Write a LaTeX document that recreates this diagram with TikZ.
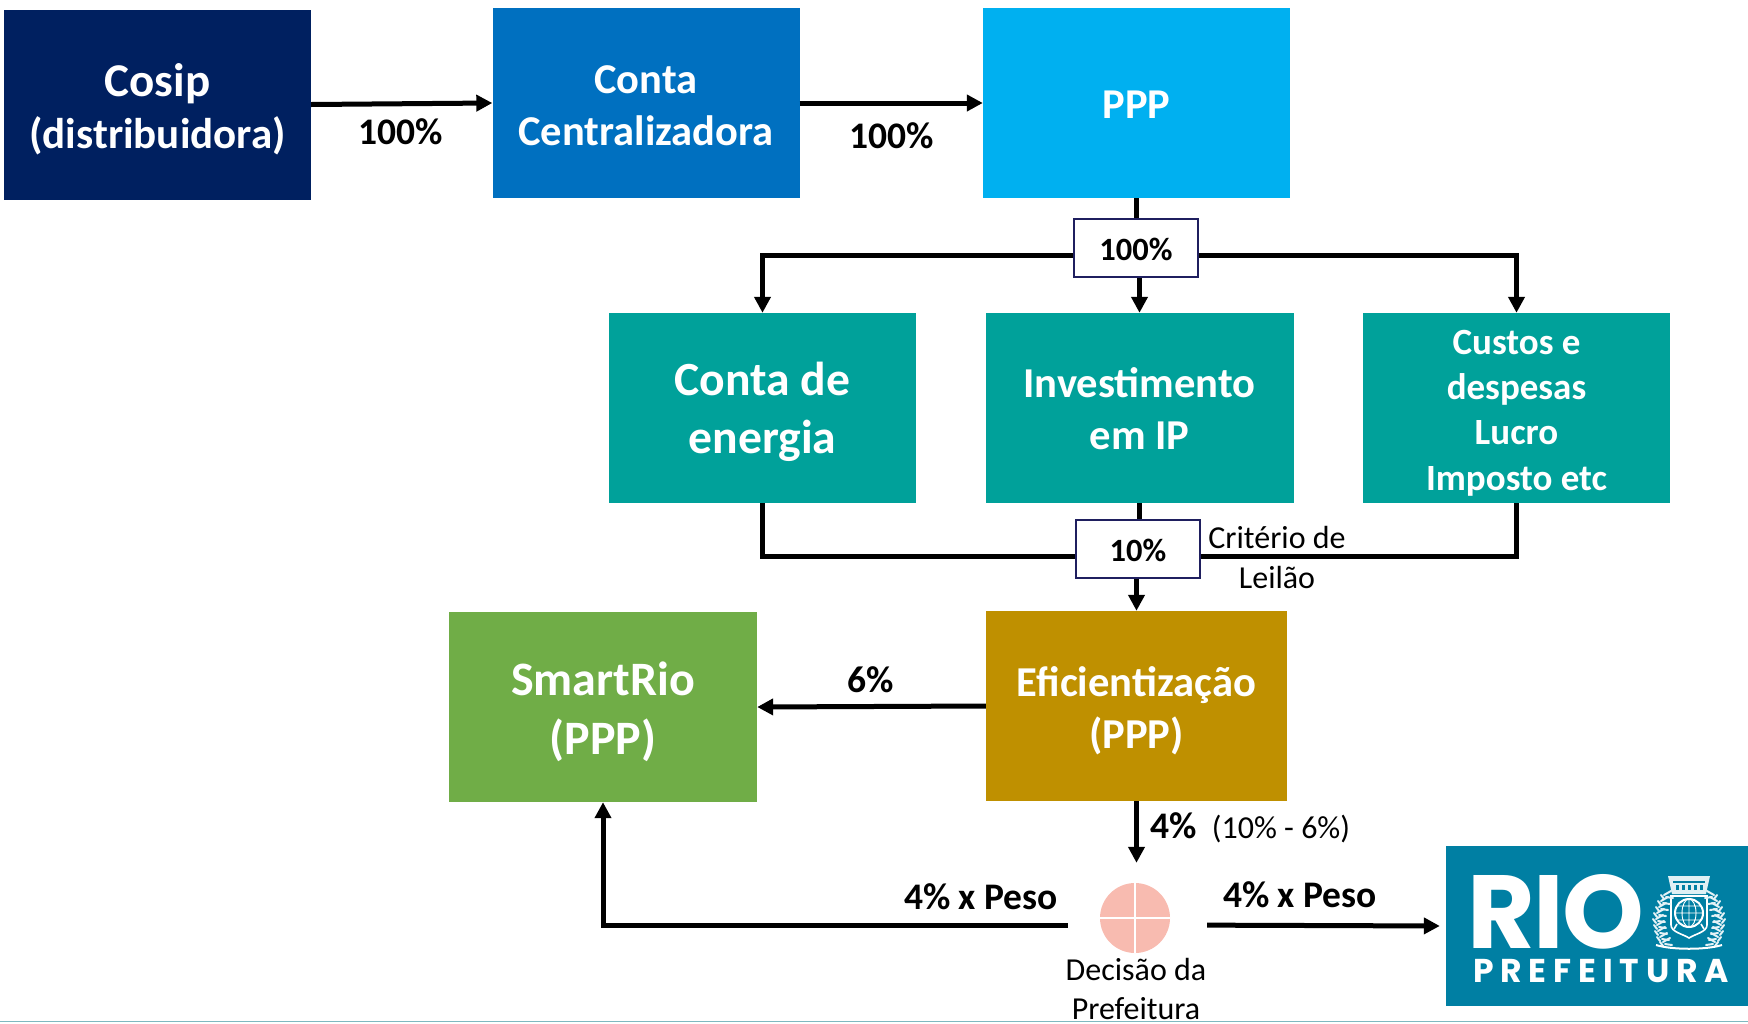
\documentclass[tikz,border=0pt]{standalone}
\usepackage{fontspec}
\setmainfont{Carlito}
\newfontfamily\logofont{Poppins}[UprightFont=* Bold,LetterSpace=-2]
\newfontfamily\preffont{Poppins}[UprightFont=* Bold,LetterSpace=20.6]
\usetikzlibrary{arrows.meta}
\definecolor{cosipc}{HTML}{002060}
\definecolor{contac}{HTML}{0070C0}
\definecolor{pppc}{HTML}{00B0F0}
\definecolor{tealc}{HTML}{00A19A}
\definecolor{smartc}{HTML}{70AD47}
\definecolor{efic}{HTML}{BF9000}
\definecolor{logoc}{HTML}{007FA3}
\definecolor{pinkc}{HTML}{F8BBB0}
\definecolor{framec}{HTML}{1F1F5F}
\definecolor{rulec}{HTML}{7FB8C0}
\newcommand{\fs}[1]{\fontsize{#1}{1.22\dimexpr#1pt\relax}\selectfont}
% pushes a node's text down by half of the extra height of its first line
\newcommand{\dn}[1]{\rule{0pt}{\dimexpr\fontcharht\font`\(+#1pt\relax}}
\tikzset{
  x=1pt,y=-1pt,
  flowbox/.style={minimum width=307pt,minimum height=190pt,inner sep=0pt,align=center,text=white,font=\fs{42.5}\bfseries},
  pctbox/.style={draw=framec,line width=1.5pt,fill=white,minimum width=124pt,minimum height=58pt,inner sep=0pt,font=\fs{32.5}\bfseries},
  conn/.style={draw=black,line width=5pt},
  arr/.style={conn,-{Triangle[length=16pt,width=16pt]}},
  pct/.style={font=\fs{37.5}\bfseries,inner sep=0pt},
  note/.style={font=\fs{32},inner sep=0pt,align=center},
}
\begin{document}
\begin{tikzpicture}
\useasboundingbox (0,0) rectangle (1748,1023);
\node[flowbox,fill=cosipc] (cosip) at (157.5,104.5) {\fs{47}\dn{7}Cosip\\\fs{43}(distribuidora)};
\node[flowbox,fill=contac] (conta) at (646,103) {\dn{2}Conta\\Centralizadora};
\node[flowbox,fill=pppc] (ppp) at (1136.5,103) {\dn{0}PPP};
\node[pctbox] (b100) at (1136,248) {\dn{2}100\%};
\node[flowbox,fill=tealc,font=\fs{47.6}\bfseries] (ener) at (762.5,408) {\dn{6}Conta de\\energia};
\node[flowbox,fill=tealc,minimum width=308pt,font=\fs{42.6}\bfseries] (inv) at (1139.5,408) {\dn{0}Investimento\\em IP};
\node[flowbox,fill=tealc,font=\fs{37}\bfseries] (cust) at (1516.5,408) {\dn{7}Custos e\\despesas\\Lucro\\Imposto etc};
\node[pctbox] (b10) at (1138,549) {\dn{2}10\%};
\node[flowbox,fill=efic,minimum width=301pt,font=\fs{42.6}\bfseries] (efi) at (1136.5,706) {\dn{8}Eficientização\\(PPP)};
\node[flowbox,fill=smartc,minimum width=308pt,font=\fs{48}\bfseries] (smart) at (603,707) {\dn{8}SmartRio\\(PPP)};
\node[circle,fill=pinkc,minimum size=70pt,inner sep=0pt] (dec) at (1135,918) {};
\draw[white,line width=1.5pt] (dec.north) -- (dec.south);
\draw[white,line width=1.5pt] (dec.west) -- (dec.east);
\node[fill=logoc,minimum width=302pt,minimum height=160pt,inner sep=0pt] (logo) at (1597,926) {};
% connectors
\draw[arr] (cosip.east) -- (conta.west);
\draw[arr] (conta.east) -- (ppp.west);
\draw[conn] (ppp.south -| b100.north) -- (b100.north);
\draw[arr] (b100.south -| inv.north) -- (inv.north);
\draw[arr] ([yshift=-7pt]b100.west) -| (ener.north);
\draw[arr] ([yshift=-7pt]b100.east) -| (cust.north);
\draw[conn] (inv.south) -- (inv.south |- b10.north);
\draw[conn] (ener.south) |- ([yshift=-7pt]b10.west);
\draw[conn] (cust.south) |- ([yshift=-7pt]b10.east);
\draw[arr] (b10.south -| efi.north) -- (efi.north);
\draw[arr] (efi.west) -- (smart.east);
\draw[arr,shorten >=20pt] (efi.south) -- (dec.north -| efi.south);
\draw[arr,shorten <=32pt] ([yshift=-7pt]dec.west) -| (smart.south);
\draw[arr,shorten <=37pt,shorten >=6pt] ([yshift=-7pt]dec.east) -- (logo.west);
% labels
\node[pct] (l1) at (401,131.5) {100\%};
\node[pct] (l2) at (892,136) {100\%};
\node[pct] (l3) at (871,680) {6\%};
\node[pct] (l4) at (1174,826) {4\%};
\node[note] (l5) at (1281,829) {(10\% - 6\%)};
\node[pct] (l6) at (981,897) {4\% x Peso};
\node[pct] (l7) at (1300,895) {4\% x Peso};
\node[note] (l8) at (1136,989) {Decisão da\\Prefeitura};
\node[note] (l9) at (1277,557.5) {Critério de\\Leilão};
% logo artwork
\node[text=white,inner sep=0pt,anchor=center,font=\fontsize{104}{104}\logofont] (rio) at (1556,911.5) {RIO};
\node[text=white,inner sep=0pt,anchor=center,font=\fontsize{33}{34}\preffont] (pref) at (1601,971) {PREFEITURA};
% coat of arms
\fill[white!88!logoc] (1668,876) -- (1710,876) -- (1706,894) -- (1672,894) -- cycle;
\fill[logoc] (1673,881) rectangle (1705,883);
\foreach \i in {1676,1682,...,1700} \fill[logoc] (\i,885) rectangle ++(3,5);
\draw[white,line width=1.6pt] (1671,896) -- (1707,896) -- (1707,925) .. controls (1707,932) and (1695,934) .. (1689,938) .. controls (1683,934) and (1671,932) .. (1671,925) -- cycle;
\draw[white,line width=2pt] (1689,913) circle (14);
\draw[white,line width=.9pt] (1689,913) ellipse (7 and 14) (1675,913) -- (1703,913) (1677,906) -- (1701,906) (1677,920) -- (1701,920) (1689,899) -- (1689,927);
\draw[white,line width=1.6pt] (1677,924) -- (1674,929) (1701,924) -- (1704,929);
\foreach \yy/\xx in {895/1664,901/1661,907/1659,913/1657,919/1656,925/1657,931/1658,937/1660,942/1663} {
  \draw[white!90!logoc,line width=2pt,line cap=round] (\xx,\yy) -- ++(7,-4) (\xx-3,\yy) -- ++(3,4) (\xx+2,\yy+2) -- ++(7,1);
  \pgfmathsetmacro{\xr}{3378-\xx}
  \draw[white!90!logoc,line width=2pt,line cap=round] (\xr,\yy) -- ++(-7,-4) (\xr+3,\yy) -- ++(-3,4) (\xr-2,\yy+2) -- ++(-7,1);
}
\draw[white,line width=2pt] (1656,945) .. controls (1672,950) and (1706,950) .. (1722,945);
\draw[rulec,line width=1.5pt] (0,1021.5) -- (1748,1021.5);
\end{tikzpicture}
\end{document}
